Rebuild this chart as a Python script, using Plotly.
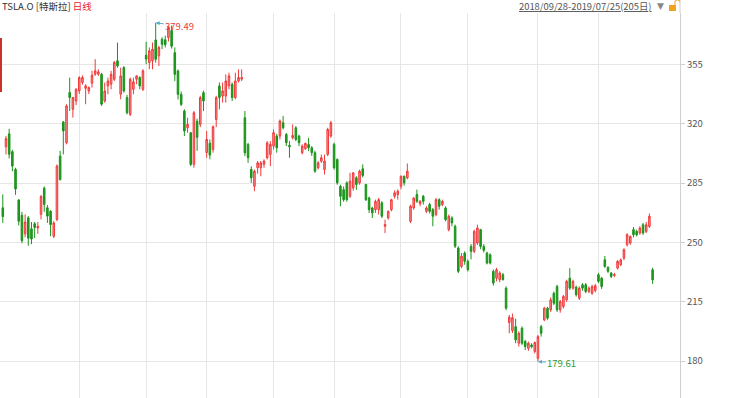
import plotly.graph_objects as go

# ---- data (TSLA.O daily candles) ----
OPEN = [270.4,306.4,314.0,303.5,293.0,275.0,266.0,255.0,264.5,258.0,261.0,258.5,266.5,282.0,270.4,268.4,253.6,263.5,300.9,321.0,
        308.8,338.4,328.5,333.4,339.3,344.3,340.9,339.3,343.9,349.2,349.2,349.2,333.4,342.3,343.3,346.2,357.1,337.4,353.1,335.4,
        325.5,340.3,346.2,347.2,340.3,360.4,356.1,357.1,369.4,360.0,369.8,369.5,370.8,375.0,361.9,351.1,337.3,327.5,317.6,314.7,
        296.0,321.5,319.6,338.3,303.0,308.5,304.8,322.5,342.3,336.3,336.3,342.3,343.2,335.4,345.2,346.3,323.5,307.8,293.0,283.1,
        294.0,294.0,296.0,299.9,301.9,306.8,312.7,312.7,320.6,313.7,307.2,311.7,317.6,312.7,302.9,305.2,307.8,305.8,302.9,294.0,
        297.9,293.0,301.9,312.7,307.8,298.9,283.1,281.1,285.1,277.2,282.1,288.1,285.1,293.4,284.1,276.2,270.3,269.3,269.3,273.3,
        259.5,264.4,269.3,277.2,278.2,283.1,289.0,288.1,262.4,270.3,278.2,272.8,277.2,268.3,272.3,269.3,266.4,275.2,272.3,270.3,
        257.5,264.4,259.5,246.7,235.8,243.7,238.8,247.6,244.7,249.6,257.5,247.6,243.7,242.7,232.9,228.9,228.0,230.9,223.0,202.7,
        198.0,200.3,190.5,199.4,191.5,187.5,189.5,185.6,181.6,200.3,204.3,211.2,210.2,220.0,224.0,210.2,212.2,216.1,228.9,223.0,
        223.6,217.1,225.0,225.0,221.0,220.0,221.6,230.9,228.9,239.7,235.2,231.9,230.5,234.8,236.8,240.7,248.6,249.6,257.5,256.5,
        255.5,260.4,256.5,259.4,233.8]
HIGH = [278.3,312.8,317.0,304.6,294.0,275.5,268.0,266.5,265.5,262.0,262.0,262.0,278.0,283.0,272.0,269.0,262.5,296.0,304.0,321.6,
        331.5,347.2,335.8,341.0,348.0,348.5,343.3,342.0,351.2,358.1,352.1,350.0,344.3,347.2,351.2,357.0,367.9,353.1,354.0,337.0,
        347.2,347.2,348.6,348.0,352.1,368.3,365.0,367.9,379.49,366.0,371.0,371.9,377.4,377.9,365.0,352.0,339.0,328.5,323.5,315.0,
        327.5,323.0,336.5,339.5,315.7,310.7,319.0,336.5,344.3,344.3,349.1,350.1,344.3,350.1,352.0,352.0,327.5,308.7,294.9,293.0,
        298.0,298.0,299.0,309.7,309.7,316.6,314.0,322.5,324.5,314.5,309.7,319.6,318.6,313.5,307.8,308.8,311.7,306.8,304.0,298.0,
        301.8,301.8,317.6,321.6,308.8,299.5,284.0,283.0,286.0,291.0,291.5,289.0,292.9,296.0,284.5,277.0,271.0,275.2,276.2,274.3,
        263.4,268.8,275.7,280.7,281.2,289.5,289.4,296.5,272.2,276.5,281.1,275.0,278.0,271.3,273.3,270.3,276.2,276.0,275.2,271.3,
        266.4,265.4,260.5,247.7,243.7,244.7,240.0,249.0,257.5,260.4,258.0,249.0,244.5,243.5,234.0,235.0,233.0,232.0,224.0,207.2,
        208.0,205.0,197.5,200.4,192.5,191.5,190.5,191.5,195.4,201.3,212.0,212.0,217.5,221.0,225.0,216.0,219.0,228.0,234.8,228.0,
        224.5,224.0,226.0,226.0,224.0,225.0,225.5,232.0,229.5,242.0,236.0,232.5,232.0,239.5,240.5,246.5,255.5,254.0,259.0,257.5,
        259.5,261.5,262.0,267.0,235.0]
LOW = [261.5,301.9,299.5,292.0,278.0,260.0,249.5,253.0,248.0,249.0,252.5,255.0,263.5,268.0,261.5,253.6,252.5,262.5,286.5,301.9,
       307.8,327.5,323.6,331.0,337.5,343.0,331.5,337.5,341.3,348.2,348.2,330.5,332.4,337.4,340.3,345.2,353.0,334.4,338.3,325.5,
       324.5,337.4,343.3,340.3,339.3,355.1,352.1,352.1,356.0,354.0,364.0,365.0,368.5,364.3,345.2,334.3,330.4,312.7,314.7,295.0,
       294.1,304.0,318.0,327.5,299.9,299.0,302.9,318.0,328.5,332.4,332.4,340.3,333.4,334.4,344.2,345.2,300.9,296.9,285.1,280.2,
       290.5,289.0,294.0,298.9,295.0,304.8,302.9,310.7,316.6,306.8,299.9,310.7,309.7,306.8,301.9,304.5,303.8,301.0,291.0,293.0,
       296.9,290.0,300.9,311.7,293.0,284.0,271.3,274.0,274.0,276.2,280.5,281.0,284.0,288.3,274.4,267.3,264.4,267.4,266.4,264.4,
       255.5,263.4,268.3,275.8,275.2,281.3,283.5,287.2,261.4,269.3,273.3,271.3,272.3,267.3,267.0,259.5,265.4,269.3,271.3,262.4,
       256.5,259.5,246.7,231.9,234.8,236.8,232.9,240.0,243.7,248.5,246.0,244.0,237.0,237.0,224.5,227.0,226.5,227.5,210.0,196.4,
       196.5,190.5,188.5,189.5,186.5,186.0,187.5,184.5,179.61,194.4,203.5,204.3,209.0,213.0,209.0,208.5,211.0,215.0,222.0,222.0,
       218.0,216.0,221.5,220.0,220.0,219.0,220.5,226.0,222.5,235.0,232.0,229.0,229.5,234.0,236.0,239.5,247.6,248.6,253.0,253.5,
       254.5,254.5,255.5,258.5,225.5]
CLOSE = [265.2,311.2,302.0,295.0,281.5,262.5,251.0,262.0,252.5,252.0,258.8,259.5,277.0,272.4,265.5,260.5,261.5,295.0,287.1,315.7,
         330.5,335.4,335.4,340.3,347.2,347.2,342.3,341.3,348.6,351.2,350.6,331.5,339.3,345.2,349.2,356.1,354.1,348.2,339.3,326.5,
         346.2,344.7,348.2,342.3,351.2,358.1,363.0,364.0,358.0,365.0,366.8,366.6,376.8,365.7,349.1,337.3,331.4,315.7,319.6,296.0,
         326.5,312.0,335.4,333.4,310.7,301.5,318.2,335.4,335.4,339.3,345.2,348.2,335.4,345.2,347.2,347.2,302.8,299.9,288.1,292.0,
         296.9,296.9,298.0,308.7,307.8,314.7,305.8,321.6,317.6,308.8,306.4,313.1,310.7,308.8,306.8,308.4,305.8,302.9,292.0,296.9,
         299.9,297.9,316.6,320.6,294.0,285.1,277.2,275.2,275.2,286.1,291.0,284.1,292.0,289.4,275.2,269.3,267.4,274.2,275.2,265.4,
         260.5,268.3,275.2,279.2,280.2,289.0,285.1,292.0,271.3,276.2,274.2,274.2,274.2,270.3,268.3,265.4,275.2,271.3,274.2,263.4,
         265.4,261.5,247.7,232.9,241.8,238.8,233.9,244.7,256.5,258.5,247.6,245.3,237.8,237.8,226.0,233.9,231.9,228.0,211.2,205.9,
         205.5,192.5,196.4,190.5,188.5,190.5,188.5,190.9,194.4,196.4,211.2,205.3,216.1,214.1,210.2,215.1,218.1,227.0,223.0,227.0,
         219.1,223.0,223.0,221.0,223.0,224.0,224.4,227.0,224.0,235.8,232.9,229.9,231.0,238.8,239.7,245.7,254.5,253.5,254.5,254.5,
         258.5,255.5,260.4,265.4,227.9]

MONTH_START_IDX = [24, 45, 64, 85, 104, 125, 146, 168, 187]
Y_TICKS = [180, 215, 250, 285, 320, 355]
TITLE_CODE = "TSLA.O [特斯拉]"
TITLE_PERIOD = "日线"
DATE_RANGE = "2018/09/28-2019/07/25(205日)"

X = list(range(len(OPEN)))

FONT = "Noto Sans CJK SC, Noto Sans, sans-serif"

fig = go.Figure()
fig.add_trace(go.Candlestick(
    x=X, open=OPEN, high=HIGH, low=LOW, close=CLOSE,
    increasing=dict(line=dict(color="#f0393a", width=1), fillcolor="#f59393"),
    decreasing=dict(line=dict(color="#1b931b", width=1), fillcolor="#1f9a1f"),
    whiskerwidth=0, hoverinfo="skip", showlegend=False,
))

i_max = max(X, key=lambda i: HIGH[i])
i_min = min(X, key=lambda i: LOW[i])

annotations = [
    dict(x=i_max, y=HIGH[i_max], xref="x", yref="y", text=f"{HIGH[i_max]:.2f}",
         showarrow=True, ax=24, ay=3, arrowhead=2, arrowsize=0.8, arrowwidth=1,
         arrowcolor="#5aaac8", standoff=0, font=dict(family=FONT, size=9.5, color="#e8403a")),
    dict(x=i_min, y=LOW[i_min], xref="x", yref="y", text=f"{LOW[i_min]:.2f}",
         showarrow=True, ax=24, ay=1, arrowhead=2, arrowsize=0.8, arrowwidth=1,
         arrowcolor="#5aaac8", standoff=0, font=dict(family=FONT, size=9.5, color="#2e9a2e")),
    dict(x=0.0, y=1.0169, xref="paper", yref="paper", xanchor="left", yanchor="middle",
         text=f'{TITLE_CODE} <span style="color:#e8231f">{TITLE_PERIOD}</span>',
         showarrow=False, font=dict(family=FONT, size=9.5, color="#333333")),
    dict(x=0.9618, y=1.0169, xref="paper", yref="paper", xanchor="right", yanchor="middle",
         text=f"<u>{DATE_RANGE}</u>", showarrow=False,
         font=dict(family=FONT, size=9.4, color="#555555")),
    dict(x=0.9713, y=1.0169, xref="paper", yref="paper", xanchor="center", yanchor="middle",
         text="▼", showarrow=False, font=dict(family="DejaVu Sans", size=9, color="#888888")),
]

shapes = [
    # left red window marker
    dict(type="rect", xref="paper", yref="paper", x0=0, x1=0.0029, y0=0.7948, y1=0.935,
         fillcolor="#c8302a", line=dict(width=0)),
    # axis line extension to top edge
    dict(type="line", xref="paper", yref="paper", x0=1, x1=1, y0=1, y1=1.034,
         line=dict(color="#cfcfcf", width=1)),
    # lock icon
    dict(type="rect", xref="paper", yref="paper", x0=0.9838, x1=0.9941, y0=1.0052, y1=1.0208,
         fillcolor="#f2a21c", line=dict(width=0)),
    dict(type="path", xref="paper", yref="paper",
         path="M 0.9926,1.0208 L 0.9926,1.0286 Q 0.9926,1.0338 0.9963,1.0338 Q 1.0,1.0338 1.0,1.0286",
         line=dict(color="#f2a21c", width=1)),
]

fig.update_layout(
    width=730, height=398,
    margin=dict(l=0, r=50, t=13, b=0),
    paper_bgcolor="white", plot_bgcolor="white",
    showlegend=False,
    font=dict(family=FONT),
    xaxis=dict(range=[-0.88, 212.6], tickvals=MONTH_START_IDX, showticklabels=False,
               showgrid=True, gridcolor="#e6e6e6", gridwidth=1, zeroline=False,
               ticks="", showline=False, rangeslider=dict(visible=False)),
    yaxis=dict(side="right", range=[158.2, 385.3], tickvals=Y_TICKS,
               showgrid=True, gridcolor="#e6e6e6", gridwidth=1, zeroline=False,
               showline=True, linecolor="#cfcfcf", linewidth=1,
               ticks="outside", ticklen=4, tickcolor="#cfcfcf",
               tickfont=dict(family=FONT, size=9.5, color="#555555")),
    annotations=annotations,
    shapes=shapes,
)

fig.write_html("out.html", config={"displayModeBar": False},
               post_script="document.body.style.margin='0';document.body.style.padding='0';")
